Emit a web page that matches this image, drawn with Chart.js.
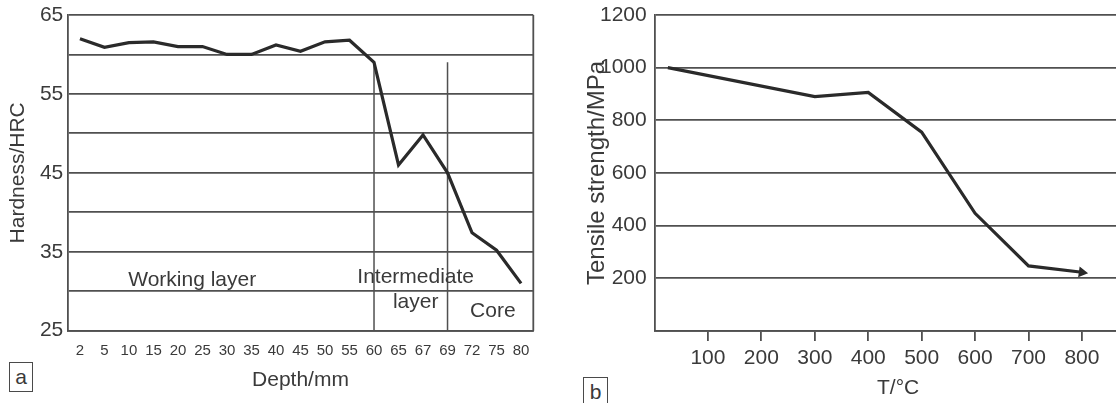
<!DOCTYPE html>
<html>
<head>
<meta charset="utf-8">
<script src="https://cdn.jsdelivr.net/npm/chart.js@4/dist/chart.umd.min.js"></script>
<style>
html,body{margin:0;padding:0;background:#fff;overflow:hidden;width:1116px;height:403px;position:relative;}
#ca{position:absolute;left:0;top:0;}
#cb{position:absolute;left:560px;top:0;}
.tag{position:absolute;font:21px "Liberation Sans",Arial,sans-serif;color:#3a3a3a;border:1.5px solid #4a4a4a;text-align:center;box-sizing:border-box;background:#fff;}
</style>
</head>
<body>
<canvas id="ca" width="560" height="403"></canvas>
<canvas id="cb" width="589" height="403"></canvas>
<div class="tag" style="left:9px;top:362px;width:24px;height:30px;line-height:27px;">a</div>
<div class="tag" style="left:583px;top:377px;width:25px;height:32px;line-height:27px;">b</div>
<script>
// ---------- data: chart a ----------
const depthLabels = ['2','5','10','15','20','25','30','35','40','45','50','55','60','65','67','69','72','75','80'];
const hardness    = [62.0,60.9,61.5,61.6,61.0,61.0,60.0,60.0,61.2,60.4,61.6,61.8,59.0,46.0,49.8,45.0,37.4,35.2,31.0];
const hardnessTickLabels = [25,35,45,55,65];
const zoneDividers = ['60','69'];
const zoneDividerTop = 59;
const zoneNames = ['Working layer','Intermediate','layer','Core'];

// ---------- data: chart b ----------
const temperatures = [25,300,400,500,600,700,800];
const strength     = [1000,890,906,755,447,247,223];
const temperatureTicks = [100,200,300,400,500,600,700,800];
const strengthTicks = [200,400,600,800,1000,1200];

// ---------- styles ----------
const FONT = '"Liberation Sans", Arial, sans-serif';
const TXT = '#3a3a3a';
const GRID = '#505050';
const GW = 1.8;
const LINE = '#2a2a2a';
Chart.defaults.font.family = FONT;
Chart.defaults.color = TXT;

// label placement for zone names (category index, value)
const zonePlacement = [
  {x: 4.58, y: 31.45},
  {x: 13.7, y: 31.75},
  {x: 13.7, y: 28.6},
  {x: 16.85, y: 27.5}
];

const zonePlugin = {
  id: 'zones',
  beforeDatasetsDraw(chart) {
    const {ctx, chartArea, scales: {x, y}} = chart;
    ctx.save();
    ctx.strokeStyle = GRID;
    ctx.lineWidth = 1.5;
    zoneDividers.forEach(c => {
      const px = x.getPixelForValue(depthLabels.indexOf(c));
      ctx.beginPath();
      ctx.moveTo(px, y.getPixelForValue(zoneDividerTop));
      ctx.lineTo(px, chartArea.bottom);
      ctx.stroke();
    });
    ctx.lineWidth = GW;
    ctx.beginPath();
    ctx.moveTo(chartArea.right, chartArea.top);
    ctx.lineTo(chartArea.right, chartArea.bottom);
    ctx.stroke();
    ctx.fillStyle = TXT;
    ctx.font = '21px ' + FONT;
    ctx.textAlign = 'center';
    ctx.textBaseline = 'middle';
    zoneNames.forEach((t, i) => {
      const p = zonePlacement[i];
      ctx.fillText(t, x.getPixelForValue(p.x), y.getPixelForValue(p.y));
    });
    ctx.restore();
  }
};

function noOverhangY(s, w) { s.width = w; s.paddingTop = 0; s.paddingBottom = 0; }
function noOverhangX(s, h) { s.height = h; s.paddingLeft = 0; s.paddingRight = 0; }

new Chart(document.getElementById('ca'), {
  type: 'line',
  data: {
    labels: depthLabels,
    datasets: [{
      data: hardness,
      borderColor: LINE,
      borderWidth: 3.2,
      pointRadius: 0,
      tension: 0,
      fill: false
    }]
  },
  options: {
    responsive: false,
    animation: false,
    events: [],
    layout: {padding: {left: 0, right: 26.7, top: 15, bottom: 0}},
    plugins: {legend: {display: false}, tooltip: {enabled: false}},
    scales: {
      x: {
        type: 'category',
        offset: true,
        grid: {display: false, drawTicks: false},
        border: {display: true, color: GRID, width: GW},
        ticks: {autoSkip: false, maxRotation: 0, minRotation: 0, padding: 11,
                font: {size: 15}, color: TXT},
        title: {display: true, text: 'Depth/mm', font: {size: 21}, color: TXT,
                padding: {top: 0, bottom: 10.4}},
        afterFit(s) { noOverhangX(s, 72.3); }
      },
      y: {
        min: 25, max: 65,
        ticks: {stepSize: 5, padding: 4.4, font: {size: 21}, color: TXT,
                callback: v => hardnessTickLabels.includes(v) ? String(v) : ''},
        grid: {color: GRID, lineWidth: GW, drawTicks: false},
        border: {display: true, color: GRID, width: GW},
        title: {display: true, text: 'Hardness/HRC', font: {size: 21}, color: TXT,
                padding: {top: 5.4, bottom: 0}},
        afterFit(s) { noOverhangY(s, 67.7); }
      }
    }
  },
  plugins: [zonePlugin]
});

new Chart(document.getElementById('cb'), {
  type: 'line',
  data: {
    datasets: [{
      data: temperatures.map((t, i) => ({x: t, y: strength[i]})),
      borderColor: LINE,
      backgroundColor: LINE,
      borderWidth: 3.2,
      pointStyle: 'triangle',
      pointRadius: c => c.dataIndex === temperatures.length - 1 ? 3 : 0,
      pointRotation: 98,
      tension: 0,
      fill: false
    }]
  },
  options: {
    responsive: false,
    animation: false,
    events: [],
    layout: {padding: {left: 0, right: 0, top: 15, bottom: 0}},
    plugins: {legend: {display: false}, tooltip: {enabled: false}},
    scales: {
      x: {
        type: 'linear',
        min: 0, max: 912,
        afterBuildTicks(s) { s.ticks = temperatureTicks.map(v => ({value: v})); },
        ticks: {padding: 4.7, font: {size: 21}, color: TXT, maxRotation: 0,
                callback: v => String(v)},
        grid: {drawOnChartArea: false, drawTicks: true, tickLength: 10, color: GRID, lineWidth: GW},
        border: {display: true, color: GRID, width: GW},
        title: {display: true, text: 'T/°C', font: {size: 21}, color: TXT,
                padding: {top: 0, bottom: 2.4}},
        afterFit(s) { noOverhangX(s, 72); }
      },
      y: {
        min: 0, max: 1200,
        afterBuildTicks(s) { s.ticks = [0].concat(strengthTicks).map(v => ({value: v})); },
        ticks: {padding: 7.8, font: {size: 21}, color: TXT,
                callback: v => strengthTicks.includes(v) ? String(v) : ''},
        grid: {color: GRID, lineWidth: GW, drawTicks: false},
        border: {display: true, color: GRID, width: GW},
        title: {display: true, text: 'Tensile strength/MPa', font: {size: 24}, color: TXT,
                padding: {top: 22.6, bottom: 0}},
        afterFit(s) { noOverhangY(s, 94.5); }
      }
    }
  }
});
</script>
</body>
</html>
